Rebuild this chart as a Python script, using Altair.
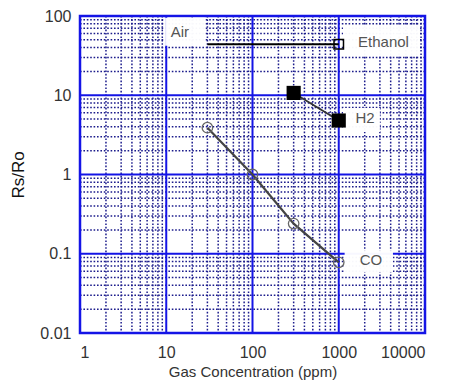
import altair as alt
import pandas as pd

# ---- data ----
ethanol_x = [30, 1000]
ethanol_y = [44, 44]
h2_x = [300, 1000]
h2_y = [10.7, 4.8]
co_x = [30, 100, 300, 1000]
co_y = [3.9, 1.0, 0.24, 0.078]

x_ticks = [1, 10, 100, 1000, 10000]
y_ticks = [0.01, 0.1, 1, 10, 100]
minor_mult = [2, 3, 4, 5, 6, 7, 8, 9]

label_names = ["Air", "Ethanol", "H2", "CO"]
label_x = [14.4, 3300, 2015, 2366]
label_y = [62, 47, 5.15, 0.083]
box_x1 = [9.7, 1120, 1120, 1170]
box_x2 = [28, 8700, 3000, 4250]
box_y1 = [95, 77, 6.9, 0.111]
box_y2 = [42, 32, 3.43, 0.0586]

FONT = "Liberation Sans"
BLUE = "#1414e6"
DOT = "#1c1c8c"

W, H = 345, 317

xs = alt.Scale(type="log", domain=[1, 10000], nice=False)
ys = alt.Scale(type="log", domain=[0.01, 100], nice=False)

minor_x = pd.DataFrame({"v": [d * m for d in x_ticks[:-1] for m in minor_mult]})
minor_y = pd.DataFrame({"v": [d * m for d in y_ticks[:-1] for m in minor_mult]})
major_x = pd.DataFrame({"v": x_ticks})
major_y = pd.DataFrame({"v": y_ticks})

lab_expr = "datum.value >= 1 ? format(datum.value, 'd') : toString(datum.value)"
x_axis = alt.Axis(values=x_ticks, grid=False, ticks=False, domain=False,
                  labelExpr=lab_expr, labelPadding=11,
                  title="Gas Concentration (ppm)", titlePadding=4,
                  titleFontSize=15, titleColor="#333333")
y_axis = alt.Axis(values=y_ticks, grid=False, ticks=False, domain=False,
                  labelExpr=lab_expr, labelPadding=9,
                  title="Rs/Ro", titlePadding=12,
                  titleFontSize=17, titleColor="#111111")

vgrid = alt.Chart(minor_x).mark_rule(color=DOT, strokeDash=[1.6, 1.8], strokeWidth=1.5).encode(
    x=alt.X("v:Q", scale=xs, axis=x_axis)
)
hgrid = alt.Chart(minor_y).mark_rule(color=DOT, strokeDash=[1.6, 1.8], strokeWidth=1.5).encode(
    y=alt.Y("v:Q", scale=ys, axis=y_axis)
)
vmajor = alt.Chart(major_x).mark_rule(color=BLUE, strokeWidth=2).encode(
    x=alt.X("v:Q", scale=xs)
)
hmajor = alt.Chart(major_y).mark_rule(color=BLUE, strokeWidth=2).encode(
    y=alt.Y("v:Q", scale=ys)
)

boxes = pd.DataFrame({"x1": box_x1, "x2": box_x2, "y1": box_y1, "y2": box_y2})
box_layer = alt.Chart(boxes).mark_rect(color="white", opacity=0.97).encode(
    x=alt.X("x1:Q", scale=xs), x2="x2:Q",
    y=alt.Y("y1:Q", scale=ys), y2="y2:Q",
)

eth = pd.DataFrame({"x": ethanol_x, "y": ethanol_y})
eth_line = alt.Chart(eth).mark_line(color="black", strokeWidth=2.2).encode(
    x=alt.X("x:Q", scale=xs), y=alt.Y("y:Q", scale=ys))
eth_pt = alt.Chart(eth.tail(1)).mark_point(shape="square", filled=False, color="black",
                                           size=90, strokeWidth=1.5, opacity=1).encode(
    x=alt.X("x:Q", scale=xs), y=alt.Y("y:Q", scale=ys))

h2 = pd.DataFrame({"x": h2_x, "y": h2_y})
h2_line = alt.Chart(h2).mark_line(color="#333333", strokeWidth=1.8).encode(
    x=alt.X("x:Q", scale=xs), y=alt.Y("y:Q", scale=ys))
h2_pt = alt.Chart(h2).mark_point(shape="square", filled=True, color="black", opacity=1,
                                 size=200).encode(
    x=alt.X("x:Q", scale=xs), y=alt.Y("y:Q", scale=ys))

co = pd.DataFrame({"x": co_x, "y": co_y})
co_line = alt.Chart(co).mark_line(color="#444444", strokeWidth=2.2).encode(
    x=alt.X("x:Q", scale=xs), y=alt.Y("y:Q", scale=ys))
co_pt = alt.Chart(co).mark_point(shape="circle", filled=False, color="#666666",
                                 size=110, strokeWidth=1.3, opacity=1).encode(
    x=alt.X("x:Q", scale=xs), y=alt.Y("y:Q", scale=ys))

labels = pd.DataFrame({"t": label_names, "x": label_x, "y": label_y})
text_layer = alt.Chart(labels).mark_text(font=FONT, fontSize=15, color="#555555").encode(
    x=alt.X("x:Q", scale=xs), y=alt.Y("y:Q", scale=ys), text="t:N")

chart = alt.layer(
    vgrid, hgrid, vmajor, hmajor, box_layer, eth_line, eth_pt, h2_line, h2_pt,
    co_line, co_pt, text_layer
).properties(
    width=W, height=H,
    background="white",
    autosize=alt.AutoSizeParams(type="none"),
    padding={"left": 72, "top": 8, "right": 17, "bottom": 51},
).configure_view(
    stroke=BLUE, strokeWidth=2.5, fill="white"
).configure_axis(
    labelFont=FONT, labelFontSize=16, labelColor="#333333",
    titleFont=FONT, titleFontWeight="normal",
)

chart.save("out.html", embed_options={"renderer": "svg", "actions": False})
